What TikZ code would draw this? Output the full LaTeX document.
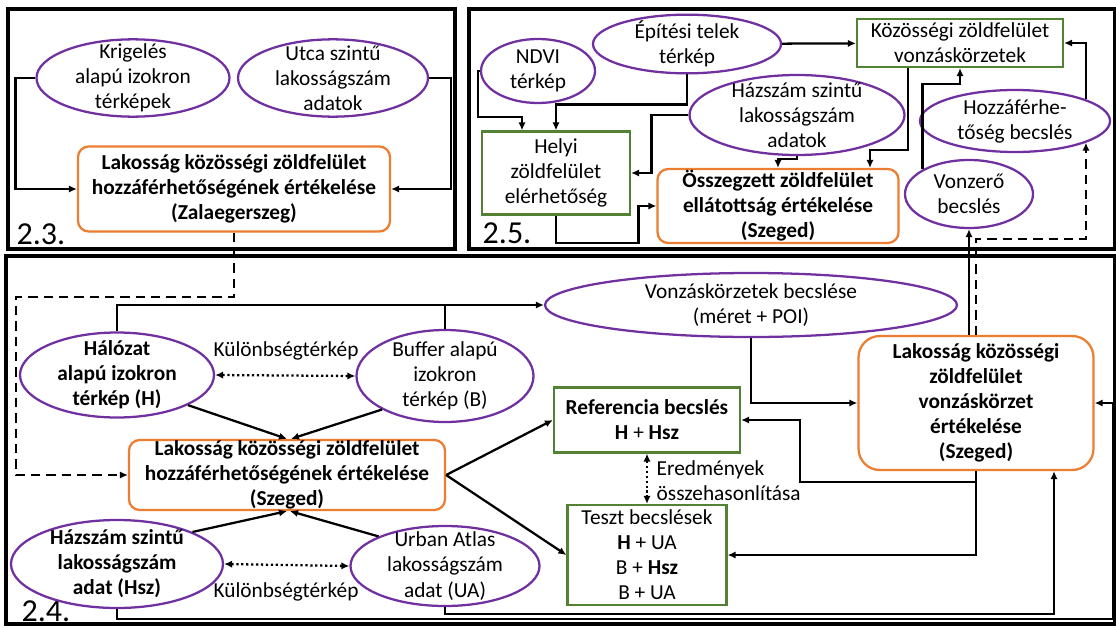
\documentclass[tikz,border=0pt]{standalone}
\usepackage{fontspec}
\setmainfont{Carlito}
\usepackage{tikz}
\usetikzlibrary{positioning,shapes.geometric,arrows.meta,calc}

\definecolor{ellpurple}{RGB}{112,48,160}
\definecolor{boxgreen}{RGB}{84,130,53}
\definecolor{evalorange}{RGB}{237,125,49}
\newcommand{\diagfont}{\fontsize{16}{18.8}\selectfont}

\begin{document}
\begin{tikzpicture}[
		x=0.75pt,y=-0.75pt,
		inputdata/.style={
			ellipse,
			draw=ellpurple,
			line width=1.7pt,
			inner sep=-15pt,
			align=center,
		},
		estimate/.style={
			rectangle,
			draw=boxgreen,
			line width=1.7pt,
			inner sep=0pt,
			align=center,
		},
		evaluation/.style={
			rectangle,
			rounded corners=8pt,
			draw=evalorange,
			line width=1.7pt,
			inner sep=0pt,
			align=center,
			font=\diagfont\bfseries,
		},
		link/.style={line width=1.7pt},
		flow/.style={link,->},
		feedback/.style={flow,dash pattern=on 7pt off 4.5pt},
		compare/.style={link,<->,dotted},
		panelframe/.style={line width=3pt},
		panellabel/.style={anchor=base west,font=\fontsize{24}{28}\selectfont},
		font=\diagfont,
		>={Latex[length=6pt,width=5.5pt]}
		]
		\useasboundingbox (0,0) rectangle (1116,628);
		% Draw the panel frames and their numbers
		\foreach \i/\xa/\ya/\xb/\yb/\lx/\ly in {3/8/9/455/249/12/244,5/469/9/1115/249/478/243,4/6/256/1115/624/17/621} {
			\draw[panelframe] (\xa,\ya) rectangle (\xb,\yb);
			\node[panellabel] (label\i) at (\lx,\ly) {2.\i.};
		}
		
		% Draw the 2.3 panel
		\node[inputdata,minimum width=144.75pt,minimum height=58pt] (krig) at (133,78) {Krigelés\\alapú izokron\\térképek};
		\node[inputdata,minimum width=142.5pt,minimum height=58pt] (utca) at (333,78) {Utca szintű\\lakosságszám\\adatok};
		\node[evaluation,minimum width=234pt,minimum height=63.75pt] (zala) at (234,189) {Lakosság közösségi zöldfelület\\hozzáférhetőségének értékelése\\(Zalaegerszeg)};
		\draw[flow] (krig.west) -- ++(-20,0) |- (zala.west);
		\draw[flow] (utca.east) -- ++(22,0) |- (zala.east);
		
		% Draw the 2.5 panel
		\node[inputdata,minimum width=85.5pt,minimum height=48pt] (ndvi) at (538,71) {NDVI\\térkép};
		\node[inputdata,minimum width=141pt,minimum height=44pt] (epit) at (687,44) {Építési telek\\térkép};
		\node[estimate,minimum width=154.5pt,minimum height=36pt] (kozvonz) at (960,43) {Közösségi zöldfelület\\vonzáskörzetek};
		\node[inputdata,minimum width=161.25pt,minimum height=60pt] (hazsz5) at (797,115) {Házszám szintű\\lakosságszám\\adatok};
		\node[inputdata,minimum width=142.5pt,minimum height=46.5pt] (hozzbecs) at (1015,121) {Hozzáférhe-\\tőség becslés};
		\node[inputdata,minimum width=96pt,minimum height=51pt] (vonzero) at (969,194) {Vonzerő\\becslés};
		\node[estimate,minimum width=111pt,minimum height=62.25pt] (helyi) at (556,173) {Helyi\\zöldfelület\\elérhetőség};
		\node[evaluation,minimum width=180.75pt,minimum height=55.5pt] (osszeg) at (778,206) {Összegzett zöldfelület\\ellátottság értékelése\\(Szeged)};
		\draw[flow] (ndvi.west) -| ++(-2,46) -| ($(helyi.north)+(-34,0)$);
		\draw[flow] (epit.south) -- ++(0,30) -| (helyi.north);
		\draw[flow] (epit) -- (kozvonz);
		\draw[flow] (hazsz5.west) -- ++(-37,0) |- (helyi.east);
		\draw[flow] (hazsz5.south) -- ++(0,3) -| (osszeg.north);
		\draw[flow] ($(kozvonz.south)+(-52,0)$) -- ++(0,82) -| ($(osszeg.north)+(92,0)$);
		\draw[flow] (vonzero.152) -- ++(0,-85) -| (kozvonz.south);
		\draw[flow] (hozzbecs.17) |- (kozvonz.east);
		\draw[flow] (helyi.south) -- ++(0,27) -| ($(osszeg.west)+(-18,0)$) -- (osszeg.west);
		
		% Draw the 2.4 panel
		\node[inputdata,minimum width=145.5pt,minimum height=63.75pt,font=\diagfont\bfseries] (halo) at (117,375) {Hálózat\\alapú izokron\\térkép (H)};
		\node[inputdata,minimum width=132.75pt,minimum height=69pt] (buff) at (445,376) {Buffer alapú\\izokron\\térkép (B)};
		\node[evaluation,minimum width=237pt,minimum height=52.5pt] (szeg) at (287,475) {Lakosság közösségi zöldfelület\\hozzáférhetőségének értékelése\\(Szeged)};
		\node[inputdata,minimum width=159pt,minimum height=66pt,font=\diagfont\bfseries] (hsz) at (117,564) {Házszám szintű\\lakosságszám\\adat (Hsz)};
		\node[inputdata,minimum width=141.75pt,minimum height=60pt] (ua) at (445,566) {Urban Atlas\\lakosságszám\\adat (UA)};
		\node[inputdata,minimum width=309pt,minimum height=48pt] (vonzb) at (751,305) {Vonzáskörzetek becslése\\(méret + POI)};
		\node[estimate,minimum width=139.5pt,minimum height=48.75pt] (ref) at (647,420) {\textbf{Referencia becslés}\\\textbf{H} + \textbf{Hsz}};
		\node[estimate,minimum width=119.25pt,minimum height=75pt] (teszt) at (647,555) {Teszt becslések\\\textbf{H} + UA\\B + \textbf{Hsz}\\B + UA};
		\node[evaluation,rounded corners=16pt,minimum width=176.25pt,minimum height=100.5pt] (vonzert) at (976,403) {Lakosság közösségi\\zöldfelület\\vonzáskörzet\\értékelése\\(Szeged)};
		% Draw the labels of the comparisons
		\node (kul1) at (286,351) {Különbségtérkép};
		\node (kul2) at (286,592) {Különbségtérkép};
		\node[anchor=west,align=left] (ered) at (652,481) {Eredmények\\összehasonlítása};
		% Draw the connectors
		\draw[compare] (halo.east) -- (buff.west);
		\draw[compare] (hsz.east) -- (ua.west);
		\draw[compare] (ref.south) -- (teszt.north);
		\draw[flow] (halo.-23) -- (szeg.north);
		\draw[flow] (buff.-152) -- ($(szeg.north)+(4,0)$);
		\draw[flow] (hsz.23) -- (szeg.south);
		\draw[flow] (ua.156) -- ($(szeg.south)+(3,0)$);
		\draw[flow] (halo.north) |- (vonzb.west);
		\draw[link] (buff.north) -- (buff.north |- vonzb.west);
		\draw[flow] (szeg.east) -- (ref.west);
		\draw[flow] (szeg.east) -- (teszt.west);
		\draw[flow] (vonzb.south) |- (vonzert.west);
		\draw[flow] (vonzert.south) |- ($(ref.east)+(59,62)$) |- (ref.east);
		\draw[flow] (vonzert.south) |- (teszt.east);
		\draw[flow] (hsz.south) |- ($(vonzert.east)+(18,216)$) |- (vonzert.east);
		\draw[flow] (ua.south) |- ($(vonzert.south)+(78,143)$) -- ($(vonzert.south)+(78,0)$);
		% Draw the links up to the 2.3 and 2.5 panels
		\draw[feedback] (zala.south) |- (16,297) |- (szeg.west);
		\draw[flow] ($(vonzert.north)+(-7,0)$) -- (vonzero.south);
		\draw[feedback] (vonzert.north) -- ++(0,-96) -| (hozzbecs.-17);
	\end{tikzpicture}
\end{document}
